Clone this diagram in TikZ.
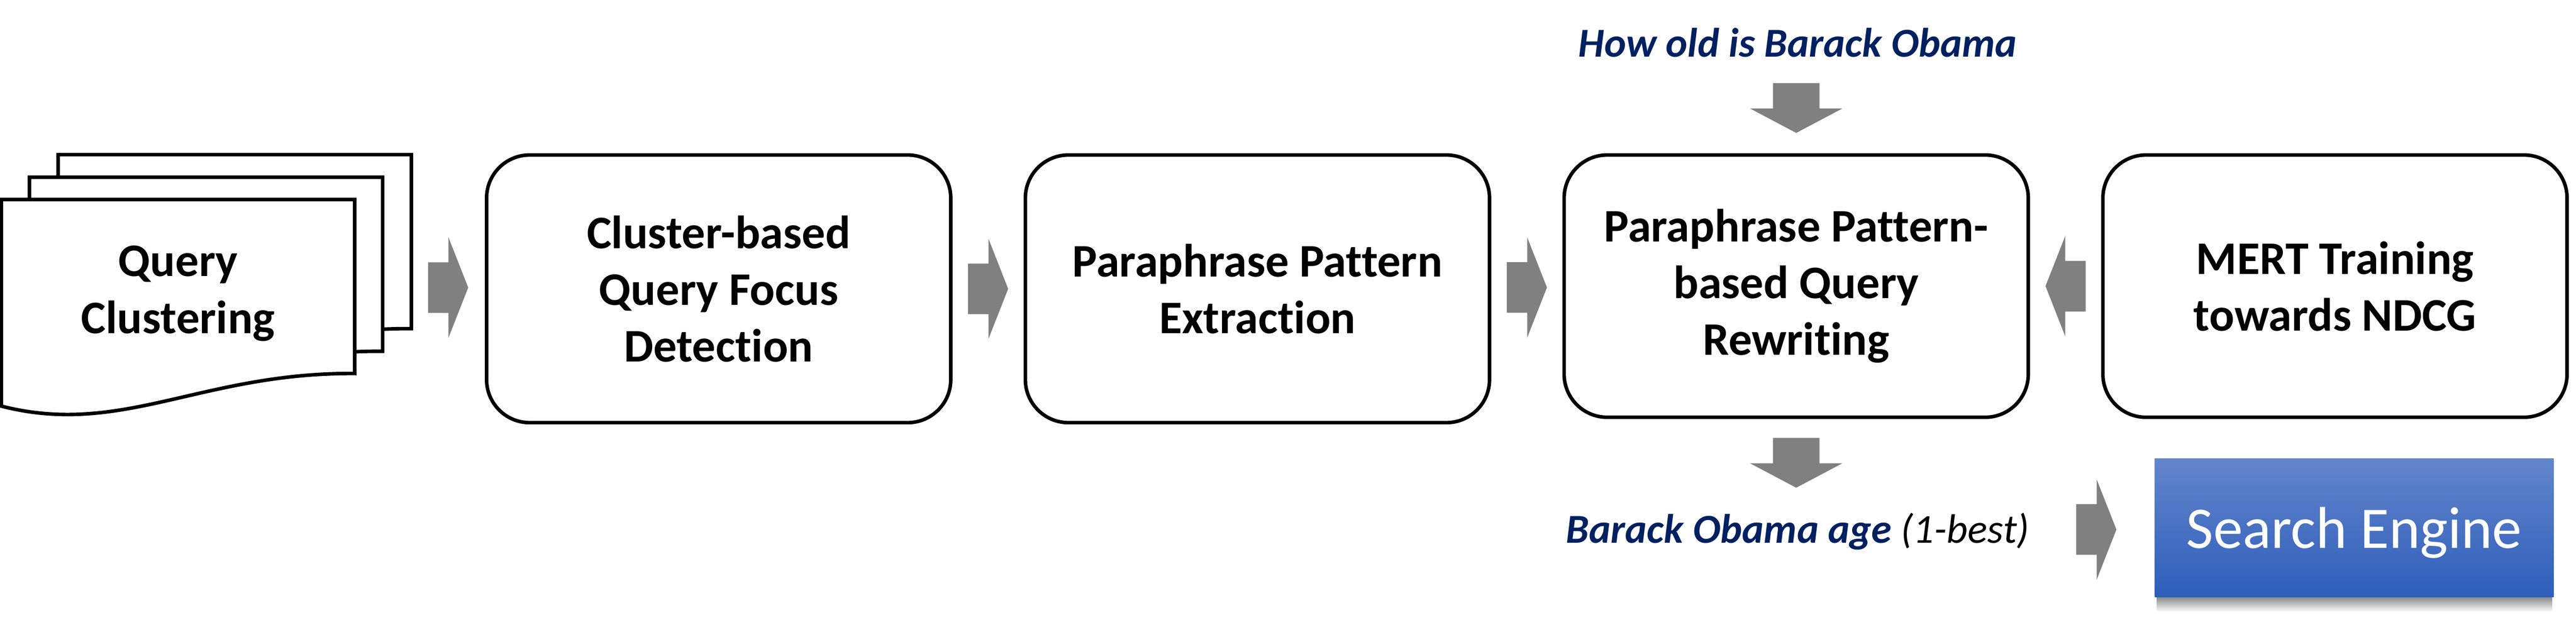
\documentclass[tikz,border=0pt]{standalone}
\usepackage{fontspec}
\setmainfont{Carlito}[Ligatures=NoCommon]
\usetikzlibrary{positioning,calc,fadings}
\definecolor{navy}{HTML}{002060}
\definecolor{arrgray}{HTML}{808080}
\definecolor{seTop}{RGB}{99,133,204}
\definecolor{seBot}{RGB}{46,94,185}

\tikzset{
  stepbox/.style={draw, line width=1.4pt, rounded corners=0.6cm, minimum width=6.465cm,
    minimum height=3.73cm, align=center, inner sep=0pt,
    font=\fontsize{18.5}{22.5}\selectfont\bfseries},
  docpage/.style={draw, line width=1.4pt, fill=white},
  query/.style={font=\fontsize{16.3}{19.5}\selectfont\bfseries\itshape, text=navy},
  sebox/.style={top color=seTop, bottom color=seBot, text=white, minimum width=5.555cm,
    minimum height=1.93cm, text depth=0pt, font=\fontsize{23.4}{28}\selectfont},
  pics/blockarrow/.style={code={
    \fill[arrgray] (-0.28,-0.3525) -- (0.005,-0.3525) -- (0.005,-0.70) -- (0.28,0)
      -- (0.005,0.70) -- (0.005,0.3525) -- (-0.28,0.3525) -- cycle;}}
}

\begin{document}
\begin{tikzpicture}
\useasboundingbox (0,0) rectangle (35.88,8.64);
% stack of query pages
\foreach \dx/\dy in {0.79/0.625, 0.39/0.31, 0/0}
  \path[docpage, shift={(\dx,\dy)}] (0.02,2.98) -- (0.02,5.86) -- (4.94,5.86) -- (4.94,3.435)
    .. controls (2.8,3.45) and (1.7,2.55) .. (0.02,2.98) -- cycle;
\node[font=\fontsize{18.5}{22.5}\selectfont\bfseries, align=center] (qc) at (2.48,4.55) {Query\\Clustering};
\coordinate (docr) at (5.73,4.65);

% pipeline
\node[stepbox] (focus) at (10.01,4.615) {Cluster-based\\Query Focus\\Detection};
\node[stepbox, right=0.99cm of focus] (extract) {Paraphrase Pattern\\Extraction};
\node[stepbox, right=0.99cm of extract, minimum height=3.655cm, yshift=0.0375cm] (rewrite) {Paraphrase Pattern-\\based Query\\Rewriting};
\node[stepbox, right=0.99cm of rewrite, minimum height=3.655cm] (mert) {MERT Training\\towards NDCG};

\node[query, anchor=base] (inq) at (25.04,7.85) {How old is Barack Obama};
\node[query, anchor=base] (outq) at (25.04,1.075) {Barack Obama age {\mdseries\color{black}(1-best)}};
\node[sebox] (se) at (32.79,1.285) {Search Engine};
\fill[black, opacity=0.45, path fading=south] ([xshift=0.03cm]se.south west) rectangle ([xshift=-0.03cm, yshift=-0.2cm]se.south east);

% block arrows
\pic at ($(docr)!0.5!(focus.west)$) {blockarrow};
\pic at ($(focus.east)!0.5!(extract.west)$) {blockarrow};
\pic at ($(extract.east)!0.5!(rewrite.west)$) {blockarrow};
\pic[rotate=180] at ($(rewrite.east)!0.5!(mert.west)$) {blockarrow};
\pic[rotate=-90, xscale=1.24, yscale=0.92] at ([yshift=0.63cm]rewrite.north) {blockarrow};
\pic[rotate=-90, xscale=1.24, yscale=0.92] at ([yshift=-0.61cm]rewrite.south) {blockarrow};
\pic at ($(outq.east)!0.5!(se.west)$) {blockarrow};
\end{tikzpicture}
\end{document}
